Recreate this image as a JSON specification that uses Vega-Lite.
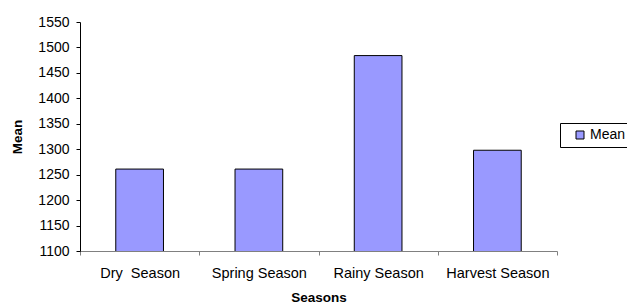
{
  "$schema": "https://vega.github.io/schema/vega-lite/v6.json",
  "width": 477,
  "height": 229,
  "autosize": {"type": "none"},
  "padding": {"left": 80, "top": 22, "right": 70, "bottom": 54},
  "background": "white",
  "config": {
    "view": {"stroke": null},
    "font": "Liberation Sans",
    "axis": {"labelFont": "Liberation Sans", "titleFont": "Liberation Sans", "labelColor": "black", "titleColor": "black"}
  },
  "data": {
    "values": [
      {"season": "Dry\u00a0 Season", "mean": 1261},
      {"season": "Spring Season", "mean": 1261},
      {"season": "Rainy Season", "mean": 1484},
      {"season": "Harvest Season", "mean": 1298}
    ]
  },
  "mark": {"type": "bar", "stroke": "black", "strokeWidth": 1, "width": {"band": 0.4}, "clip": true},
  "encoding": {
    "x": {
      "field": "season",
      "type": "nominal",
      "sort": null,
      "scale": {"paddingInner": 0, "paddingOuter": 0},
      "axis": {
        "title": "Seasons",
        "titleFontWeight": "bold",
        "titleFontSize": 13.5,
        "titlePadding": 11,
        "labelAngle": 0,
        "labelFontSize": 14.5,
        "labelPadding": 11,
        "tickBand": "extent",
        "tickSize": 4,
        "tickColor": "#808080",
        "domainColor": "#808080",
        "grid": false
      }
    },
    "y": {
      "field": "mean",
      "type": "quantitative",
      "scale": {"domain": [1100, 1550], "zero": false, "nice": false},
      "axis": {
        "title": "Mean",
        "titleFontWeight": "bold",
        "titleFontSize": 13.5,
        "titlePadding": 13,
        "format": "d",
        "values": [1100, 1150, 1200, 1250, 1300, 1350, 1400, 1450, 1500, 1550],
        "labelFontSize": 14,
        "labelPadding": 7,
        "tickSize": 4,
        "tickColor": "black",
        "domainColor": "black",
        "grid": false
      }
    },
    "color": {
      "datum": "Mean",
      "scale": {"range": ["#9999FF"]},
      "legend": {
        "title": null,
        "orient": "none",
        "legendX": 480,
        "legendY": 101,
        "symbolType": "square",
        "symbolSize": 64,
        "symbolStrokeColor": "black",
        "symbolStrokeWidth": 1,
        "symbolFillColor": "#9999FF",
        "symbolOffset": 8,
        "labelFontSize": 14,
        "labelColor": "black",
        "labelFont": "Liberation Sans",
        "labelOffset": 3,
        "strokeColor": "black",
        "padding": 5,
        "fillColor": "white"
      }
    }
  }
}
